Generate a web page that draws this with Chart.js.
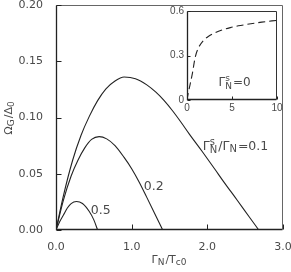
<!DOCTYPE html>
<html>
<head>
<meta charset="utf-8">
<script src="https://cdn.jsdelivr.net/npm/chart.js@4/dist/chart.umd.min.js"></script>
<style>
  body { margin: 0; background: #fff; }
  #wrap { position: relative; width: 291px; height: 272px; }
  #main { position: absolute; left: 0; top: 0; }
  #inset { position: absolute; left: 160px; top: 0; }
</style>
</head>
<body>
<div id="wrap">
  <canvas id="main" width="291" height="272"></canvas>
  <canvas id="inset" width="131" height="116"></canvas>
</div>
<script>
// main panel: Omega_G/Delta_0 vs Gamma_N/Tc0 for three ratios Gamma_N^s/Gamma_N
const gN_01 = [0, 0.1, 0.22, 0.33, 0.44, 0.55, 0.66, 0.78, 0.9, 1.05, 1.2, 1.32, 1.43, 1.54, 1.65, 1.76, 1.93, 2.1, 2.21, 2.4, 2.55, 2.68];
const om_01 = [0, 0.031, 0.062, 0.084, 0.101, 0.115, 0.1255, 0.1325, 0.136, 0.1345, 0.129, 0.1225, 0.115, 0.106, 0.096, 0.0855, 0.070, 0.054, 0.0435, 0.026, 0.012, 0];

const gN_02 = [0, 0.1, 0.2, 0.29, 0.38, 0.47, 0.57, 0.67, 0.78, 0.9, 1.0, 1.1, 1.2, 1.32, 1.41];
const om_02 = [0, 0.027, 0.048, 0.062, 0.073, 0.0805, 0.083, 0.081, 0.075, 0.0645, 0.0545, 0.0425, 0.029, 0.0125, 0];

const gN_05 = [0, 0.05, 0.1, 0.15, 0.2, 0.27, 0.35, 0.44, 0.5, 0.55];
const om_05 = [0, 0.0075, 0.0135, 0.0195, 0.0235, 0.0253, 0.0235, 0.0164, 0.009, 0];

// inset: Gamma_N^s = 0
const gN_in = [0, 0.15, 0.37, 0.6, 0.92, 1.3, 1.85, 2.4, 2.96, 3.8, 4.81, 5.7, 6.67, 8.3, 10];
const om_in = [0, 0.05, 0.112, 0.18, 0.29, 0.355, 0.403, 0.43, 0.448, 0.47, 0.488, 0.5, 0.51, 0.525, 0.537];

const FONT = '"DejaVu Sans", sans-serif';
const FONT_IN = '"Liberation Sans", Arial, sans-serif';
const INK = '#222';
const TXT = '#4a4a4a';

function pts(xs, ys) {
    return xs.map((x, i) => ({ x: x, y: ys[i] }));
}

// draws text with sub/superscripts; parts: [text, mode] mode: b, s (sub), p (sup), ps [sup, sub]
function rich(ctx, parts, x, y, size, align) {
    const small = Math.round(size * 0.78);
    let w = 0;
    const widths = parts.map(p => {
        let ww;
        if (p[1] === 'b') { ctx.font = size + 'px ' + FONT; ww = ctx.measureText(p[0]).width; }
        else if (p[1] === 'ps') { ctx.font = small + 'px ' + FONT; ww = Math.max(ctx.measureText(p[0][0]).width, ctx.measureText(p[0][1]).width) + 1; }
        else { ctx.font = small + 'px ' + FONT; ww = ctx.measureText(p[0]).width + 1; }
        w += ww;
        return ww;
    });
    let cx = align === 'center' ? x - w / 2 : x;
    ctx.textAlign = 'left';
    ctx.textBaseline = 'alphabetic';
    parts.forEach((p, i) => {
        if (p[1] === 'b') {
            ctx.font = size + 'px ' + FONT;
            ctx.fillText(p[0], cx, y);
        } else if (p[1] === 's') {
            ctx.font = small + 'px ' + FONT;
            ctx.fillText(p[0], cx, y + size * 0.22);
        } else if (p[1] === 'p') {
            ctx.font = small + 'px ' + FONT;
            ctx.fillText(p[0], cx, y - size * 0.4);
        } else {
            ctx.font = small + 'px ' + FONT;
            ctx.fillText(p[0][0], cx, y - size * 0.38);
            ctx.fillText(p[0][1], cx, y + size * 0.25);
        }
        cx += widths[i];
    });
}

function frameAndTicks(chart, opt) {
    const ctx = chart.ctx;
    const a = chart.chartArea;
    const L = Math.round(a.left) + 0.5, T = Math.round(a.top) + 0.5;
    const R = Math.round(a.right) - 0.5, B = Math.round(a.bottom) - 0.5;
    const xs = chart.scales.x, ys = chart.scales.y;
    ctx.save();
    ctx.setLineDash([]);
    ctx.strokeStyle = opt.frame;
    ctx.lineWidth = 1;
    ctx.beginPath();
    ctx.moveTo(L, T);
    ctx.lineTo(R, T);
    ctx.lineTo(R, B);
    ctx.stroke();
    ctx.strokeStyle = INK;
    ctx.lineWidth = opt.axisW;
    ctx.beginPath();
    ctx.moveTo(L, T);
    ctx.lineTo(L, B);
    ctx.lineTo(R, B);
    ctx.stroke();
    ctx.lineWidth = 1;
    ctx.beginPath();
    xs.ticks.forEach(t => {
        const px = Math.round(xs.getPixelForValue(t.value)) + 0.5;
        ctx.moveTo(px, B);
        ctx.lineTo(px, B - opt.tick);
    });
    ys.ticks.forEach(t => {
        const py = Math.round(ys.getPixelForValue(t.value)) + 0.5;
        ctx.moveTo(L, py);
        ctx.lineTo(L + opt.tick, py);
    });
    ctx.stroke();
    ctx.restore();
}

const mainDecor = {
    id: 'mainDecor',
    afterDraw(chart) {
        frameAndTicks(chart, { frame: '#666', axisW: 1.3, tick: 5 });
        const ctx = chart.ctx;
        const a = chart.chartArea;
        const xs = chart.scales.x, ys = chart.scales.y;
        ctx.save();
        ctx.fillStyle = TXT;
        // axis titles
        rich(ctx, [['Γ', 'b'], ['N', 's'], ['/T', 'b'], ['c0', 's']], (a.left + a.right) / 2, 263, 11, 'center');
        ctx.translate(12, (a.top + a.bottom) / 2);
        ctx.rotate(-Math.PI / 2);
        rich(ctx, [['Ω', 'b'], ['G', 's'], ['/Δ', 'b'], ['0', 's']], 0, 0, 11, 'center');
        ctx.restore();
        ctx.save();
        ctx.fillStyle = TXT;
        // curve labels
        rich(ctx, [['Γ', 'b'], [['s', 'N'], 'ps'], ['/Γ', 'b'], ['N', 's'], ['=0.1', 'b']],
            xs.getPixelForValue(1.94), ys.getPixelForValue(0.0714), 12.5, 'left');
        rich(ctx, [['0.2', 'b']], xs.getPixelForValue(1.16), ys.getPixelForValue(0.036), 12.5, 'left');
        rich(ctx, [['0.5', 'b']], xs.getPixelForValue(0.46), ys.getPixelForValue(0.014), 12.5, 'left');
        ctx.restore();
    }
};

const insetDecor = {
    id: 'insetDecor',
    afterDraw(chart) {
        frameAndTicks(chart, { frame: '#333', axisW: 1.3, tick: 3 });
        const ctx = chart.ctx;
        const xs = chart.scales.x, ys = chart.scales.y;
        ctx.save();
        ctx.fillStyle = TXT;
        rich(ctx, [['Γ', 'b'], [['s', 'N'], 'ps'], ['=0', 'b']],
            xs.getPixelForValue(3.5), ys.getPixelForValue(0.094), 12, 'left');
        ctx.restore();
    }
};

function lineSet(xs, ys, dash) {
    return {
        data: pts(xs, ys),
        borderColor: INK,
        borderWidth: 1.1,
        borderDash: dash || [],
        pointRadius: 0,
        fill: false,
        showLine: true,
        cubicInterpolationMode: 'monotone'
    };
}

// tick marks themselves are drawn by the plugin (inward); the invisible grid tick length only offsets labels
function hiddenGrid(len) {
    return { display: true, color: 'transparent', drawOnChartArea: false, drawTicks: true, tickLength: len };
}

const mainChart = new Chart(document.getElementById('main'), {
    type: 'scatter',
    data: {
        datasets: [
            lineSet(gN_01, om_01),
            lineSet(gN_02, om_02),
            lineSet(gN_05, om_05)
        ]
    },
    options: {
        responsive: false,
        animation: false,
        layout: { autoPadding: false, padding: { top: 5, right: 8, left: 0, bottom: 0 } },
        plugins: { legend: { display: false }, tooltip: { enabled: false } },
        scales: {
            x: {
                type: 'linear', min: 0, max: 3,
                grid: hiddenGrid(13),
                border: { display: false },
                ticks: { stepSize: 1, padding: -2, color: TXT, font: { family: FONT, size: 11 },
                         maxRotation: 0, callback: v => v.toFixed(1) },
                afterFit(s) { s.height = 42; }
            },
            y: {
                type: 'linear', min: 0, max: 0.2,
                grid: hiddenGrid(16),
                border: { display: false },
                ticks: { stepSize: 0.05, padding: -3, color: TXT, font: { family: FONT, size: 11 },
                         callback: v => v.toFixed(2) },
                afterFit(s) { s.width = 56; }
            }
        }
    },
    plugins: [mainDecor]
});

const insetChart = new Chart(document.getElementById('inset'), {
    type: 'scatter',
    data: {
        datasets: [lineSet(gN_in, om_in, [7, 4])]
    },
    options: {
        responsive: false,
        animation: false,
        layout: { autoPadding: false, padding: { top: 11, right: 14, left: 0, bottom: 0 } },
        plugins: { legend: { display: false }, tooltip: { enabled: false } },
        scales: {
            x: {
                type: 'linear', min: 0, max: 10,
                grid: { display: false, drawTicks: false },
                border: { display: false },
                ticks: { stepSize: 5, padding: 2, color: TXT, font: { family: FONT_IN, size: 10 }, maxRotation: 0 },
                afterFit(s) { s.height = 16; }
            },
            y: {
                type: 'linear', min: 0, max: 0.6,
                grid: { display: false, drawTicks: false },
                border: { display: false },
                ticks: { stepSize: 0.3, padding: 3, color: TXT, font: { family: FONT_IN, size: 10 } },
                afterFit(s) { s.width = 27; }
            }
        }
    },
    plugins: [insetDecor]
});
</script>
</body>
</html>
